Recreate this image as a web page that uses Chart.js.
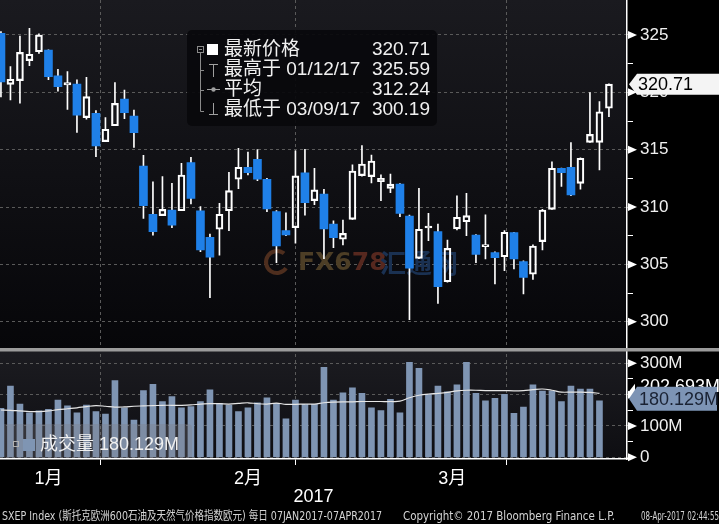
<!DOCTYPE html>
<html>
<head>
<meta charset="utf-8">
<script src="https://cdn.jsdelivr.net/npm/chart.js@4.4.1/dist/chart.umd.min.js"></script>
<style>
html, body { margin: 0; padding: 0; background: #000; }
#wrap { width: 719px; height: 524px; }
</style>
</head>
<body>
<div id="wrap"><canvas id="chart"></canvas></div>
<script>
// SXEP Index daily, 09 Jan 2017 - 07 Apr 2017
const dates = [
  '2017-01-09','2017-01-10','2017-01-11','2017-01-12','2017-01-13','2017-01-16','2017-01-17','2017-01-18','2017-01-19','2017-01-20',
  '2017-01-23','2017-01-24','2017-01-25','2017-01-26','2017-01-27','2017-01-30','2017-01-31',
  '2017-02-01','2017-02-02','2017-02-03','2017-02-06','2017-02-07','2017-02-08','2017-02-09','2017-02-10','2017-02-13','2017-02-14',
  '2017-02-15','2017-02-16','2017-02-17','2017-02-20','2017-02-21','2017-02-22','2017-02-23','2017-02-24','2017-02-27','2017-02-28',
  '2017-03-01','2017-03-02','2017-03-03','2017-03-06','2017-03-07','2017-03-08','2017-03-09','2017-03-10','2017-03-13','2017-03-14',
  '2017-03-15','2017-03-16','2017-03-17','2017-03-20','2017-03-21','2017-03-22','2017-03-23','2017-03-24','2017-03-27','2017-03-28',
  '2017-03-29','2017-03-30','2017-03-31',
  '2017-04-03','2017-04-04','2017-04-05','2017-04-06','2017-04-07'
];
const opens = [
  325.15, 320.70, 321.02, 322.76, 323.54, 323.69, 321.43, 320.64, 320.73, 317.79,
  318.17, 315.70, 317.09, 319.42, 317.94, 313.58, 309.37,
  309.25, 309.74, 309.68, 313.87, 309.66, 307.36, 308.06, 309.68, 312.42, 313.47,
  314.16, 312.42, 309.60, 307.94, 308.20, 312.99, 310.56, 311.14, 308.52, 307.19,
  308.93, 312.74, 312.65, 312.21, 311.63, 312.00, 309.22, 305.53, 308.17, 307.85,
  303.49, 308.09, 308.72, 307.56, 306.54, 306.02, 305.67, 307.77, 305.24, 304.14,
  306.98, 309.80, 313.38,
  313.47, 312.07, 315.64, 315.64, 318.61
];
const highs = [
  325.30, 322.24, 324.91, 325.59, 325.10, 323.70, 322.00, 321.80, 321.10, 321.30,
  318.40, 317.80, 320.84, 320.20, 318.46, 314.50, 312.20,
  312.65, 312.07, 313.80, 314.34, 310.03, 307.65, 310.32, 313.03, 315.12, 314.80,
  315.00, 312.50, 309.70, 309.50, 314.90, 315.03, 313.38, 311.55, 308.80, 308.87,
  313.67, 315.35, 314.54, 312.80, 312.88, 312.05, 309.30, 311.63, 309.45, 308.52,
  307.13, 310.97, 311.20, 307.60, 309.31, 306.10, 307.94, 307.80, 305.30, 306.70,
  309.80, 313.95, 313.40,
  315.61, 314.30, 319.97, 319.19, 320.75
];
const lows = [
  319.60, 319.33, 319.05, 322.32, 323.40, 321.10, 320.10, 318.50, 316.50, 317.65,
  314.40, 315.70, 317.09, 317.70, 315.20, 309.00, 307.55,
  309.25, 308.20, 309.68, 310.27, 306.10, 302.10, 305.80, 307.94, 311.60, 312.80,
  312.30, 309.60, 305.15, 307.50, 306.84, 309.30, 310.20, 305.50, 306.46, 306.70,
  308.93, 312.70, 312.10, 310.56, 311.25, 309.16, 300.19, 305.50, 307.07, 301.60,
  303.45, 308.00, 307.50, 305.15, 305.47, 303.30, 304.45, 304.60, 302.42, 303.70,
  306.26, 309.80, 311.80,
  311.00, 311.55, 315.64, 313.23, 317.88
];
const closes = [
  320.90, 321.14, 323.49, 323.32, 325.00, 321.36, 320.50, 320.84, 318.02, 319.62,
  315.32, 316.78, 319.04, 318.23, 316.48, 310.12, 307.85,
  309.80, 308.43, 312.79, 310.76, 306.26, 305.62, 309.37, 311.43, 313.47, 313.00,
  312.42, 309.83, 306.60, 307.56, 312.71, 310.38, 311.49, 308.09, 307.33, 307.71,
  313.14, 313.75, 314.01, 312.50, 312.00, 309.45, 304.66, 308.06, 308.35, 303.06,
  306.40, 309.11, 309.25, 305.88, 306.72, 305.58, 307.80, 305.47, 303.87, 306.60,
  309.74, 313.38, 313.00,
  311.05, 314.25, 316.34, 318.31, 320.71
];
// volume in millions (last bar is the 180.129M shown on the axis)
const volumes = [
  156, 227.6, 170, 142, 148, 153, 183, 164, 142, 167,
  146, 138, 244.6, 158, 119, 212.7, 233,
  177.5, 193.5, 158, 161.5, 177.5, 215, 172, 167, 146, 158,
  174, 190, 172, 123, 183, 169, 169, 287, 183, 206,
  222, 204, 158, 149, 185, 142, 303, 284, 201, 227.6,
  209, 231, 303, 204, 180, 188, 201, 140, 160, 231,
  211.6, 211.6, 177.5,
  227.6, 218, 218, 180.129
];
const volumeAvg = [
  151, 150, 148, 146, 146, 148, 152, 155, 158, 162,
  165, 163, 160, 161, 163, 164, 165,
  166, 166, 166, 167, 170, 171, 171, 170, 172, 174,
  171, 170, 173, 169, 169, 170, 170, 174, 176, 177,
  177, 178, 178, 178, 178, 179, 190, 198, 202, 204,
  207, 212, 214, 214, 213, 213, 213, 212, 213, 216,
  218, 214, 208,
  208, 208, 207, 204
];
const monthNames = ['1月', '2月', '3月'];
const monthLabelAt = [5, 26, 47.5];
const monthEnds = [16, 36, 59];
const priceTicks = [300, 305, 310, 315, 320, 325];
const volumeTicks = [0, 100, 200, 300];
const legendRows = [
  ['最新价格', '320.71'],
  ['最高于 01/12/17', '325.59'],
  ['平均', '312.24'],
  ['最低于 03/09/17', '300.19']
];
const volumeAvgLabel = '202.693M';
const footer = [
  'SXEP Index (斯托克欧洲600石油及天然气价格指数欧元) 每日 07JAN2017-07APR2017',
  'Copyright© 2017 Bloomberg Finance L.P.',
  '08-Apr-2017 02:44:55'
];

const FONT = '"Liberation Sans", "Noto Sans CJK SC", sans-serif';
const GRID = '#5a5a5a';
const BLUE = '#1f80e8';
const VOLCOL = '#7f95b3';

const idx = closes.map(function(c, i) { return i; });
const upIdx = idx.filter(function(i) { return closes[i] >= opens[i]; });
const downIdx = idx.filter(function(i) { return closes[i] < opens[i]; });

const upperWick = idx.map(function(i) { return {x: i, y: [Math.max(opens[i], closes[i]), highs[i]]}; });
const lowerWick = idx.map(function(i) { return {x: i, y: [lows[i], Math.min(opens[i], closes[i])]}; });
const upBodies = upIdx.map(function(i) { return {x: i, y: [opens[i], closes[i]]}; });
const downBodies = downIdx.map(function(i) { return {x: i, y: [closes[i], opens[i]]}; });
const volBars = volumes.map(function(v, i) { return {x: i, y: v}; });
const volLine = volumeAvg.map(function(v, i) { return {x: i, y: v}; });

function withMinor(list) {
  const out = [];
  for (let k = 0; k < list.length; k++) {
    out.push(list[k]);
    if (k < list.length - 1) out.push((list[k] + list[k + 1]) / 2);
  }
  return out;
}

const bloombergPlugin = {
  id: 'bloomberg',
  beforeDraw: function(chart) {
    const ctx = chart.ctx, a = chart.chartArea, yb = chart.scales.y.bottom;
    ctx.save();
    ctx.fillStyle = '#000';
    ctx.fillRect(0, 0, chart.width, chart.height);
    let g = ctx.createLinearGradient(0, a.top, 0, yb);
    g.addColorStop(0, '#1a1a1f');
    g.addColorStop(1, '#060609');
    ctx.fillStyle = g;
    ctx.fillRect(a.left, a.top, a.right - a.left, yb - a.top);
    g = ctx.createLinearGradient(0, yb, 0, a.bottom);
    g.addColorStop(0, '#1c1c21');
    g.addColorStop(1, '#0e0e12');
    ctx.fillStyle = g;
    ctx.fillRect(a.left, yb, a.right - a.left, a.bottom - yb);
    ctx.restore();
  },
  beforeDatasetsDraw: function(chart) {
    const ctx = chart.ctx, yb = chart.scales.y.bottom;
    ctx.save();
    // watermark
    ctx.textBaseline = 'middle';
    ctx.lineWidth = 4;
    ctx.strokeStyle = '#4e2e1e';
    ctx.beginPath();
    ctx.arc(277, 262, 11, 0.6, 5.4);
    ctx.stroke();
    ctx.font = 'bold 25px "DejaVu Sans", sans-serif';
    ctx.fillStyle = '#4d3e26';
    ctx.fillText('FX6', 298, 263);
    ctx.fillStyle = '#56281f';
    ctx.fillText('78', 298 + ctx.measureText('FX6').width, 263);
    ctx.font = 'bold 26px "Noto Sans CJK SC", sans-serif';
    ctx.fillStyle = '#1a3152';
    ctx.fillText('汇通网', 380, 263);
    // panel separator
    ctx.fillStyle = '#9b9b9b';
    ctx.fillRect(0, yb - 1.5, chart.width, 3.5);
    ctx.restore();
  },
  afterDraw: function(chart) {
    const ctx = chart.ctx, y = chart.scales.y, yv = chart.scales.yv, ax = chart.chartArea.right;
    ctx.save();
    // axis arrows
    ctx.fillStyle = '#fff';
    [[y, priceTicks], [yv, volumeTicks]].forEach(function(p) {
      p[1].forEach(function(v) {
        const py = p[0].getPixelForValue(v);
        ctx.beginPath();
        ctx.moveTo(ax + 1, py - 4);
        ctx.lineTo(ax + 10, py);
        ctx.lineTo(ax + 1, py + 4);
        ctx.closePath();
        ctx.fill();
      });
    });

    // last price label
    const py = y.getPixelForValue(closes[closes.length - 1]);
    ctx.fillStyle = '#f4f4f4';
    ctx.beginPath();
    ctx.moveTo(ax + 2, py);
    ctx.lineTo(ax + 10, py - 10.5);
    ctx.lineTo(chart.width, py - 10.5);
    ctx.lineTo(chart.width, py + 10.5);
    ctx.lineTo(ax + 10, py + 10.5);
    ctx.closePath();
    ctx.fill();
    ctx.font = '18px ' + FONT;
    ctx.textBaseline = 'middle';
    ctx.textAlign = 'left';
    ctx.fillStyle = '#000';
    ctx.fillText(closes[closes.length - 1].toFixed(2), ax + 11, py + 1);

    // volume labels
    const vy = yv.getPixelForValue(volumes[volumes.length - 1]);
    ctx.fillStyle = '#fff';
    ctx.fillText(volumeAvgLabel, ax + 13, vy - 14);
    ctx.beginPath();
    ctx.moveTo(ax + 1, vy - 8);
    ctx.lineTo(ax + 8, vy - 17);
    ctx.lineTo(ax + 8, vy);
    ctx.closePath();
    ctx.fill();
    ctx.fillStyle = '#7d94b5';
    ctx.beginPath();
    ctx.moveTo(ax + 2, vy - 2);
    ctx.lineTo(ax + 10, vy - 14);
    ctx.lineTo(chart.width - 2, vy - 14);
    ctx.lineTo(chart.width - 2, vy + 10);
    ctx.lineTo(ax + 10, vy + 10);
    ctx.closePath();
    ctx.fill();
    ctx.fillStyle = '#1a2233';
    ctx.fillText(volumes[volumes.length - 1].toFixed(3) + 'M', ax + 12, vy - 1);

    // price legend box
    ctx.fillStyle = 'rgba(9,9,12,0.93)';
    ctx.beginPath();
    ctx.roundRect(187, 30, 250, 96, 5);
    ctx.fill();
    ctx.strokeStyle = '#8a8a8a';
    ctx.lineWidth = 1;
    ctx.strokeRect(197.5, 46.5, 6, 6);
    ctx.beginPath();
    ctx.moveTo(199, 49.5); ctx.lineTo(202, 49.5);
    ctx.moveTo(200.5, 52.5); ctx.lineTo(200.5, 111.5);
    [70, 90, 111].forEach(function(ry) { ctx.moveTo(200.5, ry + 0.5); ctx.lineTo(204, ry + 0.5); });
    ctx.stroke();
    ctx.fillStyle = '#fff';
    ctx.fillRect(207, 44, 11, 11);
    ctx.strokeStyle = '#a0a0a0';
    ctx.beginPath();
    ctx.moveTo(209, 64.5); ctx.lineTo(218, 64.5);
    ctx.moveTo(213.5, 64.5); ctx.lineTo(213.5, 77);
    ctx.moveTo(207, 89.5); ctx.lineTo(220, 89.5);
    ctx.moveTo(213.5, 103); ctx.lineTo(213.5, 114.5);
    ctx.moveTo(209, 114.5); ctx.lineTo(218, 114.5);
    ctx.stroke();
    ctx.fillStyle = '#a0a0a0';
    ctx.beginPath();
    ctx.arc(213.5, 89.5, 2.2, 0, Math.PI * 2);
    ctx.fill();
    ctx.font = '19px ' + FONT;
    ctx.fillStyle = '#f0f0f0';
    legendRows.forEach(function(r, k) {
      const ry = 50 + k * 19.8;
      ctx.textAlign = 'left';
      ctx.fillText(r[0], 224, ry);
      ctx.textAlign = 'right';
      ctx.fillText(r[1], 430, ry);
    });

    // volume legend box
    ctx.textAlign = 'left';
    ctx.fillStyle = 'rgba(125,125,135,0.33)';
    ctx.beginPath();
    ctx.roundRect(4, 424, 188, 34, [0, 4, 0, 0]);
    ctx.fill();
    ctx.strokeStyle = '#b0b0b0';
    ctx.strokeRect(13.5, 441.5, 5, 5);
    ctx.fillStyle = VOLCOL;
    ctx.fillRect(23, 439, 12, 12);
    ctx.font = '18px ' + FONT;
    ctx.fillStyle = '#f0f0f0';
    ctx.fillText('成交量 ' + volumes[volumes.length - 1].toFixed(3) + 'M', 40, 445);

    // footer
    ctx.font = '12px "DejaVu Sans", "Noto Sans CJK SC", sans-serif';
    ctx.fillStyle = '#d4d4d4';
    ctx.fillText(footer[0], 2, 517, 380);
    ctx.fillText(footer[1], 403, 517, 212);
    ctx.fillText(footer[2], 641, 517, 78);
    ctx.restore();
  }
};

new Chart(document.getElementById('chart'), {
  type: 'bar',
  data: {
    datasets: [
      { data: upperWick, backgroundColor: '#fff', barThickness: 1, grouped: false, order: 4, yAxisID: 'y' },
      { data: lowerWick, backgroundColor: '#fff', barThickness: 1, grouped: false, order: 4, yAxisID: 'y' },
      { data: downBodies, backgroundColor: BLUE, barThickness: 8, grouped: false, order: 2, yAxisID: 'y' },
      { data: upBodies, backgroundColor: 'rgba(0,0,0,0)', borderColor: '#fff', borderWidth: 1.5,
        borderSkipped: false, barThickness: 7, grouped: false, order: 2, yAxisID: 'y' },
      { data: volBars, backgroundColor: VOLCOL, barThickness: 6, grouped: false, order: 3, yAxisID: 'yv' },
      { type: 'line', data: volLine, borderColor: '#e6e6e6', borderWidth: 1.2, pointRadius: 0,
        tension: 0.35, order: 0, yAxisID: 'yv' }
    ]
  },
  options: {
    responsive: true,
    maintainAspectRatio: false,
    animation: false,
    events: [],
    layout: { padding: 0, autoPadding: false },
    plugins: { legend: { display: false }, tooltip: { enabled: false } },
    scales: {
      x: {
        type: 'linear', min: -0.1, max: 65.9, offset: false,
        afterBuildTicks: function(s) {
          s.ticks = monthLabelAt.concat(monthEnds).sort(function(a, b) { return a - b; })
            .map(function(v) { return {value: v}; });
        },
        afterFit: function(s) { s.height = 65; s.paddingLeft = 0; s.paddingRight = 0; },
        ticks: {
          autoSkip: false, maxRotation: 0, minRotation: 0, padding: 3, color: '#fff',
          font: { family: FONT, size: 18 },
          callback: function(v) { const k = monthLabelAt.indexOf(v); return k >= 0 ? monthNames[k] : ''; }
        },
        grid: {
          color: function(c) { return c.tick && monthEnds.indexOf(c.tick.value) >= 0 ? GRID : 'rgba(0,0,0,0)'; },
          tickColor: function(c) { return c.tick && monthEnds.indexOf(c.tick.value) >= 0 ? '#fff' : 'rgba(0,0,0,0)'; },
          tickLength: 6, lineWidth: 1
        },
        border: { color: '#fff', width: 1.5, dash: [3, 3] },
        title: { display: true, text: '2017', color: '#fff', font: { family: FONT, size: 18 }, padding: { top: 0, bottom: 16 } }
      },
      y: {
        position: 'right', stack: 'panels', stackWeight: 349.5, min: 297.58, max: 328.05,
        afterBuildTicks: function(s) { s.ticks = withMinor(priceTicks).map(function(v) { return {value: v}; }); },
        afterFit: function(s) { s.width = 92; s.paddingTop = 0; s.paddingBottom = 0; },
        ticks: {
          autoSkip: false, padding: 7, color: '#f0f0f0', font: { family: FONT, size: 17 },
          callback: function(v) { return priceTicks.indexOf(v) >= 0 ? String(v) : ''; }
        },
        grid: {
          color: function(c) { return c.tick && priceTicks.indexOf(c.tick.value) >= 0 ? GRID : 'rgba(0,0,0,0)'; },
          tickColor: '#fff', tickLength: 6, lineWidth: 1
        },
        border: { color: '#fff', width: 1.5, dash: [3, 3] }
      },
      yv: {
        position: 'right', stack: 'panels', stackWeight: 109.5, min: -5.4, max: 344,
        afterBuildTicks: function(s) { s.ticks = withMinor(volumeTicks).map(function(v) { return {value: v}; }); },
        afterFit: function(s) { s.width = 92; s.paddingTop = 0; s.paddingBottom = 0; },
        ticks: {
          autoSkip: false, padding: 7, color: '#f0f0f0', font: { family: FONT, size: 17 },
          callback: function(v) { return volumeTicks.indexOf(v) >= 0 ? (v === 0 ? '0' : v + 'M') : ''; }
        },
        grid: {
          color: function(c) { return c.tick && volumeTicks.indexOf(c.tick.value) >= 0 ? GRID : 'rgba(0,0,0,0)'; },
          tickColor: '#fff', tickLength: 6, lineWidth: 1
        },
        border: { color: '#fff', width: 1.5, dash: [3, 3] }
      }
    }
  },
  plugins: [bloombergPlugin]
});
</script>
</body>
</html>
